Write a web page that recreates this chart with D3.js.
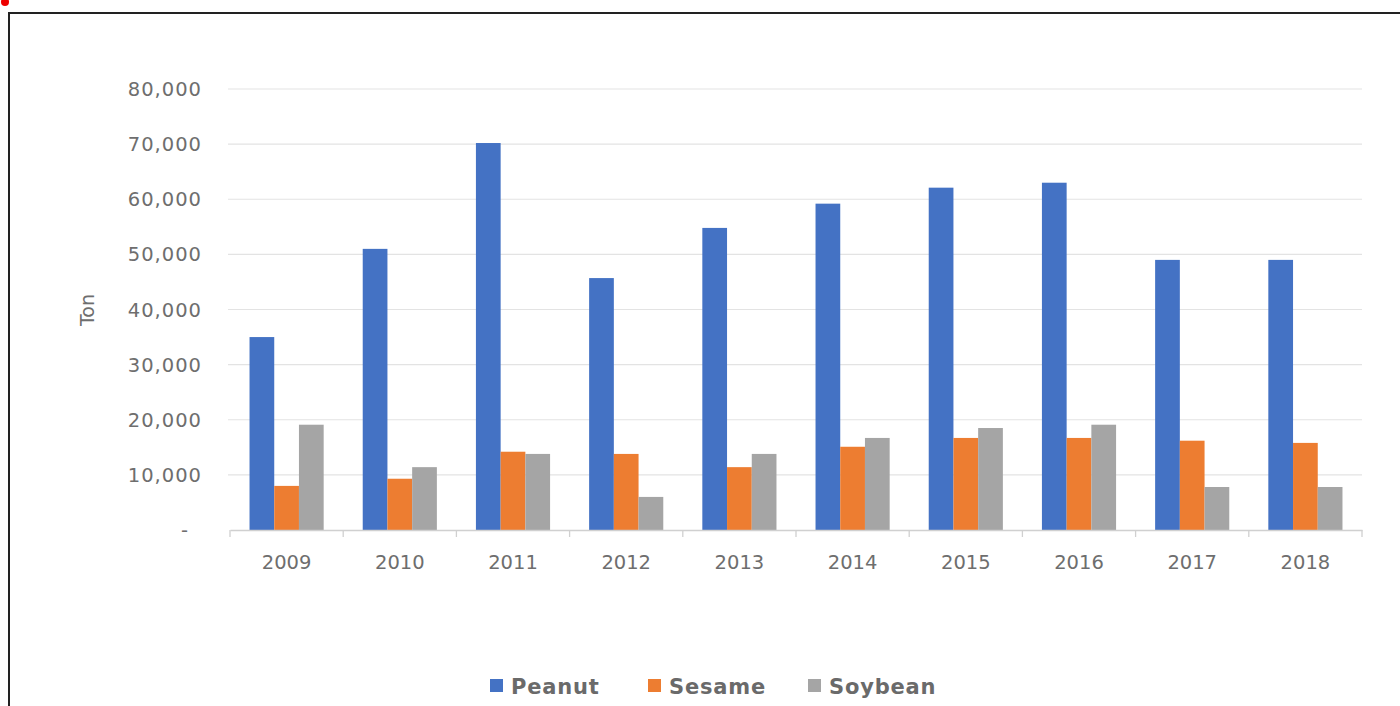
<!DOCTYPE html>
<html><head><meta charset="utf-8">
<script src="https://cdn.jsdelivr.net/npm/d3@7"></script>
<style>html,body{margin:0;padding:0;background:#fff;overflow:hidden}svg{display:block}</style>
</head><body>
<svg id="c" width="1400" height="706"></svg>
<script>
const years = ["2009","2010","2011","2012","2013","2014","2015","2016","2017","2018"];
const seriesNames = ["Peanut","Sesame","Soybean"];
const peanut  = [35000, 51000, 70200, 45700, 54800, 59200, 62100, 63000, 49000, 49000];
const sesame  = [8000, 9300, 14200, 13800, 11400, 15100, 16700, 16700, 16200, 15800];
const soybean = [19100, 11400, 13800, 6000, 13800, 16700, 18500, 19100, 7800, 7800];
const yTicks = [0, 10000, 20000, 30000, 40000, 50000, 60000, 70000, 80000];
const colors = ["#4472C4", "#ED7D31", "#A5A5A5"];

(function(){
const svg = d3.select("#c");
const FONT = "'DejaVu Sans', Verdana, sans-serif";
const TXT = "#6e6e6e";
// frame
svg.append("rect").attr("x",9).attr("y",13).attr("width",1500).attr("height",800)
  .attr("fill","#fff").attr("stroke","#222").attr("stroke-width",2);
svg.append("circle").attr("cx",5).attr("cy",2).attr("r",4).attr("fill","#e00");

const pLeft = 230, pRight = 1362, pTop = 89, pBottom = 530;
const x = d3.scaleBand().domain(years).range([pLeft, pRight]).paddingInner(0).paddingOuter(0);
const y = d3.scaleLinear().domain([0, 80000]).range([pBottom, pTop]);
const inner = d3.scaleBand().domain(seriesNames).range([0, x.bandwidth()]).paddingOuter(0.79).paddingInner(0);

// gridlines
svg.append("g").selectAll("line").data(yTicks.filter(d=>d>0)).join("line")
  .attr("x1", pLeft-2).attr("x2", pRight).attr("y1", d=>y(d)).attr("y2", d=>y(d))
  .attr("stroke","#e3e3e3").attr("stroke-width",1.2);

// y labels
const fmt = d3.format(",");
svg.append("g").attr("font-family",FONT).attr("font-size",19.5).attr("letter-spacing","1px").attr("fill",TXT)
  .selectAll("text").data(yTicks).join("text")
  .attr("x", d => d===0 ? 189 : 202).attr("y", d=>y(d)).attr("dy","0.36em").attr("text-anchor","end")
  .text(d => d===0 ? "-" : fmt(d));

// axis title
svg.append("text").attr("transform","translate(94,310) rotate(-90)").attr("text-anchor","middle")
  .attr("font-family",FONT).attr("font-size",19).attr("fill",TXT).text("Ton");

// bars
const data = [peanut, sesame, soybean];
const g = svg.append("g");
seriesNames.forEach((s, si) => {
  g.selectAll(null).data(years).join("rect")
    .attr("x", yr => x(yr) + inner(s))
    .attr("y", (yr,i) => y(data[si][i]))
    .attr("width", inner.bandwidth())
    .attr("height", (yr,i) => pBottom - y(data[si][i]))
    .attr("fill", colors[si]);
});

// x axis
const xAxis = d3.axisBottom(x).tickSize(0).tickPadding(25);
const xg = svg.append("g").attr("transform",`translate(0,${pBottom})`).call(xAxis);
xg.select(".domain").attr("stroke","#d0d0d0").attr("stroke-width",1.3);
xg.selectAll("text").attr("font-family",FONT).attr("font-size",19.5).attr("fill",TXT);
const bounds = years.map(yr => x(yr)).concat([pRight]);
svg.append("g").selectAll("line").data(bounds).join("line")
  .attr("x1", d=>d).attr("x2", d=>d).attr("y1", pBottom).attr("y2", pBottom+7)
  .attr("stroke","#d0d0d0").attr("stroke-width",1.3);

// legend
const legX = [490, 648, 808];
const lg = svg.append("g");
seriesNames.forEach((s, i) => {
  lg.append("rect").attr("x", legX[i]).attr("y", 679).attr("width", 13).attr("height", 13).attr("fill", colors[i]);
  lg.append("text").attr("x", legX[i] + 21).attr("y", 686).attr("dy","0.36em")
    .attr("font-family",FONT).attr("font-size",21).attr("font-weight","bold")
    .attr("letter-spacing","0.8px").attr("fill","#6a6a6a").text(s);
});
})();
</script>
</body></html>
